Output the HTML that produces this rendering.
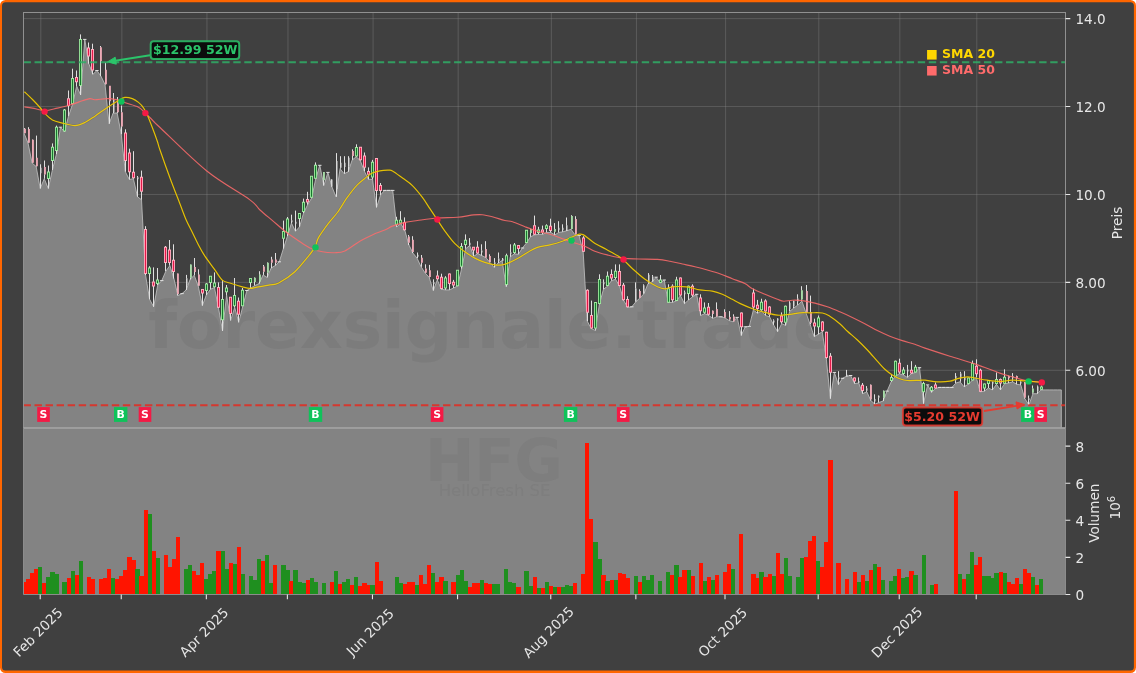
<!DOCTYPE html>
<html lang="de"><head><meta charset="utf-8"><title>HFG HelloFresh SE Chart</title>
<style>html,body{margin:0;padding:0;background:#fff;overflow:hidden}svg{display:block}</style></head>
<body>
<svg width="1136" height="673" viewBox="0 0 1136 673" font-family="'DejaVu Sans','Liberation Sans',sans-serif">
<defs>
<clipPath id="cp"><rect x="23.5" y="12.5" width="1042.0" height="415.5"/></clipPath>
<clipPath id="cv"><rect x="23.5" y="428.0" width="1042.0" height="166.5"/></clipPath>
<clipPath id="wm"><path d="M23.5 133L24 133L28.05 143L32.1 163L36.16 166.5L40.21 188.5L44.26 178.7L48.31 188.5L52.36 170L56.42 154L60.47 127.2L64.52 131.8L68.57 116L72.62 104L76.68 86.1L80.73 95L84.78 39.4L88.83 63.7L92.88 74.3L96.94 70.5L100.99 76.2L105.04 84.5L109.09 123.7L113.14 113L117.2 113L121.25 134.3L125.3 171.7L129.35 179.5L133.4 178.7L137.46 196.8L141.51 199.7L145.56 275L149.61 299.3L153.66 306.8L157.72 285L161.77 280.6L165.82 271.2L169.87 265.5L173.92 278.6L177.98 295.5L182.03 293.6L186.08 290L190.13 279.5L194.18 275.2L198.24 286.1L202.29 305.6L206.34 295L210.39 289.3L214.44 287.5L218.5 308L222.55 330.9L226.6 295L230.65 320.5L234.7 307.4L238.76 322.4L242.81 306.2L246.86 290.5L250.91 288L254.96 285.5L259.02 283.6L263.07 274.9L267.12 277.4L271.17 268L275.22 265.5L279.28 261.8L283.33 248.7L287.38 236.2L291.43 223L295.48 231.2L299.54 226.8L303.59 213L307.64 204.7L311.69 198L315.74 178.7L319.8 165.3L323.85 185.5L327.9 172.4L331.95 186.8L336 196.8L340.06 168.7L344.11 173.7L348.16 171.8L352.21 159.9L356.26 156.8L360.32 160.6L364.37 171.2L368.42 179.3L372.47 179.3L376.52 207.4L380.58 194.9L384.63 190.4L388.68 190.4L392.73 190.4L396.78 226.8L400.84 223.6L404.89 230.5L408.94 245L412.99 253.1L417.04 258.1L421.1 266.8L425.15 273L429.2 277.4L433.25 290.5L437.3 279.9L441.36 289.3L445.41 289.9L449.46 289.9L453.51 288L457.56 286.1L461.62 268.7L465.67 248.7L469.72 245.6L473.77 256.2L477.82 253.7L481.88 255.6L485.93 257.7L489.98 262.4L494.03 267.4L498.08 263L502.14 260.5L506.19 286.6L510.24 256.8L514.29 253.8L518.34 254.3L522.4 248L526.45 243L530.5 236.8L534.55 234.9L538.6 234.3L542.66 234.3L546.71 232.4L550.76 232.4L554.81 234.9L558.86 232.4L562.92 231.8L566.97 230.6L571.02 229.3L575.07 234.9L579.12 235.5L583.18 252L587.23 321.1L591.28 328.6L595.33 330.5L599.38 304.3L603.44 289.3L607.49 286.2L611.54 280.6L615.59 279.3L619.64 286.2L623.7 300.5L627.75 307.4L631.8 306.8L635.85 301.8L639.9 298L643.96 293.7L648.01 283.7L652.06 281.8L656.11 277.2L660.16 283L664.22 280L668.27 302.5L672.32 302.4L676.37 301L680.42 295.5L684.48 303.7L688.53 300L692.58 296.8L696.63 294.3L700.68 315.5L704.74 313.6L708.79 315.5L712.84 318.4L716.89 316.8L720.94 316.8L725 318L729.05 320.5L733.1 321.8L737.15 317.4L741.2 335.5L745.26 326.8L749.31 326.4L753.36 309.9L757.41 313.3L761.46 311.2L765.52 315.5L769.57 316.8L773.62 324.9L777.67 331.8L781.72 323.7L785.78 325.5L789.83 311.2L793.88 308L797.93 304.9L801.98 301.2L806.04 313L810.09 324.3L814.14 336.6L818.19 334.3L822.24 331.8L826.3 358.7L830.35 398.6L834.4 372.4L838.45 384.6L842.5 378.3L846.56 376.2L850.61 375.5L854.66 383.6L858.71 383L862.76 393.6L866.82 391.8L870.87 400.5L874.92 404.2L878.97 402.4L883.02 401.1L887.08 391.1L891.13 381.8L895.18 376.5L899.23 373.7L903.28 374.9L907.34 377.4L911.39 373.7L915.44 372.4L919.49 367.7L923.54 403.6L927.6 384.9L931.65 392.4L935.7 388.2L939.75 387.4L943.8 387.4L947.86 387.4L951.91 387.4L955.96 383L960.01 381.8L964.06 386.8L968.12 384.3L972.17 380.5L976.22 377.4L980.27 391.8L984.32 391.2L988.38 388L992.43 389.9L996.48 384.3L1000.53 389.9L1004.58 383.7L1008.64 383L1012.69 381.8L1016.74 384.3L1020.79 384.9L1024.84 398.6L1028.9 404.9L1032.95 393.7L1037 393.7L1041.05 389.9L1045.1 389.9L1049.16 389.9L1053.21 389.9L1057.26 389.9L1061.31 389.9L1061.31 428.0L1065.5 428.0L1065.5 594.5L23.5 594.5Z"/></clipPath><clipPath id="dk"><path d="M23.5 12.5L1065.5 12.5L1065.5 428.0L1061.31 428.0L1061.31 389.9L1057.26 389.9L1053.21 389.9L1049.16 389.9L1045.1 389.9L1041.05 389.9L1037 393.7L1032.95 393.7L1028.9 404.9L1024.84 398.6L1020.79 384.9L1016.74 384.3L1012.69 381.8L1008.64 383L1004.58 383.7L1000.53 389.9L996.48 384.3L992.43 389.9L988.38 388L984.32 391.2L980.27 391.8L976.22 377.4L972.17 380.5L968.12 384.3L964.06 386.8L960.01 381.8L955.96 383L951.91 387.4L947.86 387.4L943.8 387.4L939.75 387.4L935.7 388.2L931.65 392.4L927.6 384.9L923.54 403.6L919.49 367.7L915.44 372.4L911.39 373.7L907.34 377.4L903.28 374.9L899.23 373.7L895.18 376.5L891.13 381.8L887.08 391.1L883.02 401.1L878.97 402.4L874.92 404.2L870.87 400.5L866.82 391.8L862.76 393.6L858.71 383L854.66 383.6L850.61 375.5L846.56 376.2L842.5 378.3L838.45 384.6L834.4 372.4L830.35 398.6L826.3 358.7L822.24 331.8L818.19 334.3L814.14 336.6L810.09 324.3L806.04 313L801.98 301.2L797.93 304.9L793.88 308L789.83 311.2L785.78 325.5L781.72 323.7L777.67 331.8L773.62 324.9L769.57 316.8L765.52 315.5L761.46 311.2L757.41 313.3L753.36 309.9L749.31 326.4L745.26 326.8L741.2 335.5L737.15 317.4L733.1 321.8L729.05 320.5L725 318L720.94 316.8L716.89 316.8L712.84 318.4L708.79 315.5L704.74 313.6L700.68 315.5L696.63 294.3L692.58 296.8L688.53 300L684.48 303.7L680.42 295.5L676.37 301L672.32 302.4L668.27 302.5L664.22 280L660.16 283L656.11 277.2L652.06 281.8L648.01 283.7L643.96 293.7L639.9 298L635.85 301.8L631.8 306.8L627.75 307.4L623.7 300.5L619.64 286.2L615.59 279.3L611.54 280.6L607.49 286.2L603.44 289.3L599.38 304.3L595.33 330.5L591.28 328.6L587.23 321.1L583.18 252L579.12 235.5L575.07 234.9L571.02 229.3L566.97 230.6L562.92 231.8L558.86 232.4L554.81 234.9L550.76 232.4L546.71 232.4L542.66 234.3L538.6 234.3L534.55 234.9L530.5 236.8L526.45 243L522.4 248L518.34 254.3L514.29 253.8L510.24 256.8L506.19 286.6L502.14 260.5L498.08 263L494.03 267.4L489.98 262.4L485.93 257.7L481.88 255.6L477.82 253.7L473.77 256.2L469.72 245.6L465.67 248.7L461.62 268.7L457.56 286.1L453.51 288L449.46 289.9L445.41 289.9L441.36 289.3L437.3 279.9L433.25 290.5L429.2 277.4L425.15 273L421.1 266.8L417.04 258.1L412.99 253.1L408.94 245L404.89 230.5L400.84 223.6L396.78 226.8L392.73 190.4L388.68 190.4L384.63 190.4L380.58 194.9L376.52 207.4L372.47 179.3L368.42 179.3L364.37 171.2L360.32 160.6L356.26 156.8L352.21 159.9L348.16 171.8L344.11 173.7L340.06 168.7L336 196.8L331.95 186.8L327.9 172.4L323.85 185.5L319.8 165.3L315.74 178.7L311.69 198L307.64 204.7L303.59 213L299.54 226.8L295.48 231.2L291.43 223L287.38 236.2L283.33 248.7L279.28 261.8L275.22 265.5L271.17 268L267.12 277.4L263.07 274.9L259.02 283.6L254.96 285.5L250.91 288L246.86 290.5L242.81 306.2L238.76 322.4L234.7 307.4L230.65 320.5L226.6 295L222.55 330.9L218.5 308L214.44 287.5L210.39 289.3L206.34 295L202.29 305.6L198.24 286.1L194.18 275.2L190.13 279.5L186.08 290L182.03 293.6L177.98 295.5L173.92 278.6L169.87 265.5L165.82 271.2L161.77 280.6L157.72 285L153.66 306.8L149.61 299.3L145.56 275L141.51 199.7L137.46 196.8L133.4 178.7L129.35 179.5L125.3 171.7L121.25 134.3L117.2 113L113.14 113L109.09 123.7L105.04 84.5L100.99 76.2L96.94 70.5L92.88 74.3L88.83 63.7L84.78 39.4L80.73 95L76.68 86.1L72.62 104L68.57 116L64.52 131.8L60.47 127.2L56.42 154L52.36 170L48.31 188.5L44.26 178.7L40.21 188.5L36.16 166.5L32.1 163L28.05 143L24 133L23.5 133Z"/></clipPath>
</defs>
<rect x="0" y="0" width="1136" height="673" fill="#ffffff"/>
<rect x="0" y="0" width="1136" height="673" rx="5.5" ry="5.5" fill="#ff6600"/>
<rect x="2" y="2.2" width="1131.9" height="668.3" rx="3.5" ry="3.5" fill="#404040"/>
<rect x="23.5" y="428.0" width="1042.0" height="166.5" fill="#838383"/>
<g clip-path="url(#cp)">
<path d="M23.5 133L24 133L28.05 143L32.1 163L36.16 166.5L40.21 188.5L44.26 178.7L48.31 188.5L52.36 170L56.42 154L60.47 127.2L64.52 131.8L68.57 116L72.62 104L76.68 86.1L80.73 95L84.78 39.4L88.83 63.7L92.88 74.3L96.94 70.5L100.99 76.2L105.04 84.5L109.09 123.7L113.14 113L117.2 113L121.25 134.3L125.3 171.7L129.35 179.5L133.4 178.7L137.46 196.8L141.51 199.7L145.56 275L149.61 299.3L153.66 306.8L157.72 285L161.77 280.6L165.82 271.2L169.87 265.5L173.92 278.6L177.98 295.5L182.03 293.6L186.08 290L190.13 279.5L194.18 275.2L198.24 286.1L202.29 305.6L206.34 295L210.39 289.3L214.44 287.5L218.5 308L222.55 330.9L226.6 295L230.65 320.5L234.7 307.4L238.76 322.4L242.81 306.2L246.86 290.5L250.91 288L254.96 285.5L259.02 283.6L263.07 274.9L267.12 277.4L271.17 268L275.22 265.5L279.28 261.8L283.33 248.7L287.38 236.2L291.43 223L295.48 231.2L299.54 226.8L303.59 213L307.64 204.7L311.69 198L315.74 178.7L319.8 165.3L323.85 185.5L327.9 172.4L331.95 186.8L336 196.8L340.06 168.7L344.11 173.7L348.16 171.8L352.21 159.9L356.26 156.8L360.32 160.6L364.37 171.2L368.42 179.3L372.47 179.3L376.52 207.4L380.58 194.9L384.63 190.4L388.68 190.4L392.73 190.4L396.78 226.8L400.84 223.6L404.89 230.5L408.94 245L412.99 253.1L417.04 258.1L421.1 266.8L425.15 273L429.2 277.4L433.25 290.5L437.3 279.9L441.36 289.3L445.41 289.9L449.46 289.9L453.51 288L457.56 286.1L461.62 268.7L465.67 248.7L469.72 245.6L473.77 256.2L477.82 253.7L481.88 255.6L485.93 257.7L489.98 262.4L494.03 267.4L498.08 263L502.14 260.5L506.19 286.6L510.24 256.8L514.29 253.8L518.34 254.3L522.4 248L526.45 243L530.5 236.8L534.55 234.9L538.6 234.3L542.66 234.3L546.71 232.4L550.76 232.4L554.81 234.9L558.86 232.4L562.92 231.8L566.97 230.6L571.02 229.3L575.07 234.9L579.12 235.5L583.18 252L587.23 321.1L591.28 328.6L595.33 330.5L599.38 304.3L603.44 289.3L607.49 286.2L611.54 280.6L615.59 279.3L619.64 286.2L623.7 300.5L627.75 307.4L631.8 306.8L635.85 301.8L639.9 298L643.96 293.7L648.01 283.7L652.06 281.8L656.11 277.2L660.16 283L664.22 280L668.27 302.5L672.32 302.4L676.37 301L680.42 295.5L684.48 303.7L688.53 300L692.58 296.8L696.63 294.3L700.68 315.5L704.74 313.6L708.79 315.5L712.84 318.4L716.89 316.8L720.94 316.8L725 318L729.05 320.5L733.1 321.8L737.15 317.4L741.2 335.5L745.26 326.8L749.31 326.4L753.36 309.9L757.41 313.3L761.46 311.2L765.52 315.5L769.57 316.8L773.62 324.9L777.67 331.8L781.72 323.7L785.78 325.5L789.83 311.2L793.88 308L797.93 304.9L801.98 301.2L806.04 313L810.09 324.3L814.14 336.6L818.19 334.3L822.24 331.8L826.3 358.7L830.35 398.6L834.4 372.4L838.45 384.6L842.5 378.3L846.56 376.2L850.61 375.5L854.66 383.6L858.71 383L862.76 393.6L866.82 391.8L870.87 400.5L874.92 404.2L878.97 402.4L883.02 401.1L887.08 391.1L891.13 381.8L895.18 376.5L899.23 373.7L903.28 374.9L907.34 377.4L911.39 373.7L915.44 372.4L919.49 367.7L923.54 403.6L927.6 384.9L931.65 392.4L935.7 388.2L939.75 387.4L943.8 387.4L947.86 387.4L951.91 387.4L955.96 383L960.01 381.8L964.06 386.8L968.12 384.3L972.17 380.5L976.22 377.4L980.27 391.8L984.32 391.2L988.38 388L992.43 389.9L996.48 384.3L1000.53 389.9L1004.58 383.7L1008.64 383L1012.69 381.8L1016.74 384.3L1020.79 384.9L1024.84 398.6L1028.9 404.9L1032.95 393.7L1037 393.7L1041.05 389.9L1045.1 389.9L1049.16 389.9L1053.21 389.9L1057.26 389.9L1061.31 389.9L1061.31 428.0L23.5 428.0Z" fill="#838383" stroke="none"/>
</g>
<path d="M23.5 370.3H1065.5M23.5 282.38H1065.5M23.5 194.46H1065.5M23.5 106.54H1065.5M23.5 18.62H1065.5M40.81 12.5V428.0M121.85 12.5V428.0M206.94 12.5V428.0M287.98 12.5V428.0M373.07 12.5V428.0M458.16 12.5V428.0M551.36 12.5V428.0M636.45 12.5V428.0M725.6 12.5V428.0M818.79 12.5V428.0M899.83 12.5V428.0M976.82 12.5V428.0" stroke="#8a8a8a" stroke-opacity="0.36" stroke-width="1" fill="none" clip-path="url(#dk)"/>
<g clip-path="url(#cp)">
<path d="M24 133L28.05 143L32.1 163L36.16 166.5L40.21 188.5L44.26 178.7L48.31 188.5L52.36 170L56.42 154L60.47 127.2L64.52 131.8L68.57 116L72.62 104L76.68 86.1L80.73 95L84.78 39.4L88.83 63.7L92.88 74.3L96.94 70.5L100.99 76.2L105.04 84.5L109.09 123.7L113.14 113L117.2 113L121.25 134.3L125.3 171.7L129.35 179.5L133.4 178.7L137.46 196.8L141.51 199.7L145.56 275L149.61 299.3L153.66 306.8L157.72 285L161.77 280.6L165.82 271.2L169.87 265.5L173.92 278.6L177.98 295.5L182.03 293.6L186.08 290L190.13 279.5L194.18 275.2L198.24 286.1L202.29 305.6L206.34 295L210.39 289.3L214.44 287.5L218.5 308L222.55 330.9L226.6 295L230.65 320.5L234.7 307.4L238.76 322.4L242.81 306.2L246.86 290.5L250.91 288L254.96 285.5L259.02 283.6L263.07 274.9L267.12 277.4L271.17 268L275.22 265.5L279.28 261.8L283.33 248.7L287.38 236.2L291.43 223L295.48 231.2L299.54 226.8L303.59 213L307.64 204.7L311.69 198L315.74 178.7L319.8 165.3L323.85 185.5L327.9 172.4L331.95 186.8L336 196.8L340.06 168.7L344.11 173.7L348.16 171.8L352.21 159.9L356.26 156.8L360.32 160.6L364.37 171.2L368.42 179.3L372.47 179.3L376.52 207.4L380.58 194.9L384.63 190.4L388.68 190.4L392.73 190.4L396.78 226.8L400.84 223.6L404.89 230.5L408.94 245L412.99 253.1L417.04 258.1L421.1 266.8L425.15 273L429.2 277.4L433.25 290.5L437.3 279.9L441.36 289.3L445.41 289.9L449.46 289.9L453.51 288L457.56 286.1L461.62 268.7L465.67 248.7L469.72 245.6L473.77 256.2L477.82 253.7L481.88 255.6L485.93 257.7L489.98 262.4L494.03 267.4L498.08 263L502.14 260.5L506.19 286.6L510.24 256.8L514.29 253.8L518.34 254.3L522.4 248L526.45 243L530.5 236.8L534.55 234.9L538.6 234.3L542.66 234.3L546.71 232.4L550.76 232.4L554.81 234.9L558.86 232.4L562.92 231.8L566.97 230.6L571.02 229.3L575.07 234.9L579.12 235.5L583.18 252L587.23 321.1L591.28 328.6L595.33 330.5L599.38 304.3L603.44 289.3L607.49 286.2L611.54 280.6L615.59 279.3L619.64 286.2L623.7 300.5L627.75 307.4L631.8 306.8L635.85 301.8L639.9 298L643.96 293.7L648.01 283.7L652.06 281.8L656.11 277.2L660.16 283L664.22 280L668.27 302.5L672.32 302.4L676.37 301L680.42 295.5L684.48 303.7L688.53 300L692.58 296.8L696.63 294.3L700.68 315.5L704.74 313.6L708.79 315.5L712.84 318.4L716.89 316.8L720.94 316.8L725 318L729.05 320.5L733.1 321.8L737.15 317.4L741.2 335.5L745.26 326.8L749.31 326.4L753.36 309.9L757.41 313.3L761.46 311.2L765.52 315.5L769.57 316.8L773.62 324.9L777.67 331.8L781.72 323.7L785.78 325.5L789.83 311.2L793.88 308L797.93 304.9L801.98 301.2L806.04 313L810.09 324.3L814.14 336.6L818.19 334.3L822.24 331.8L826.3 358.7L830.35 398.6L834.4 372.4L838.45 384.6L842.5 378.3L846.56 376.2L850.61 375.5L854.66 383.6L858.71 383L862.76 393.6L866.82 391.8L870.87 400.5L874.92 404.2L878.97 402.4L883.02 401.1L887.08 391.1L891.13 381.8L895.18 376.5L899.23 373.7L903.28 374.9L907.34 377.4L911.39 373.7L915.44 372.4L919.49 367.7L923.54 403.6L927.6 384.9L931.65 392.4L935.7 388.2L939.75 387.4L943.8 387.4L947.86 387.4L951.91 387.4L955.96 383L960.01 381.8L964.06 386.8L968.12 384.3L972.17 380.5L976.22 377.4L980.27 391.8L984.32 391.2L988.38 388L992.43 389.9L996.48 384.3L1000.53 389.9L1004.58 383.7L1008.64 383L1012.69 381.8L1016.74 384.3L1020.79 384.9L1024.84 398.6L1028.9 404.9L1032.95 393.7L1037 393.7L1041.05 389.9L1045.1 389.9L1049.16 389.9L1053.21 389.9L1057.26 389.9L1061.31 389.9L1061.31 428.0" fill="none" stroke="#c4c4c4" stroke-opacity="0.8" stroke-width="1" stroke-linejoin="round"/>
</g>
<g clip-path="url(#cp)">
<path d="M24.5 128V129M24.5 133V133M28.5 127.2V129.3M28.5 142.4V143M32.5 139.5V140M32.5 162.4V163M36.5 135.6V158M36.5 166V166.5M40.5 164.3V168M40.5 173V188.5M44.5 160.5V167.4M44.5 174.3V178.7M48.5 165.5V172M48.5 178.5V188.5M52.5 143.4V147.2M52.5 160.5V170M56.5 125.6V127.2M56.5 150.5V154M58.77 127.2H62.17M64.5 109V110M64.5 131.2V131.8M68.5 90.5V98.6M68.5 105.5V116M72.5 68.7V78.4M72.5 103.6V104M76.5 70.5V77.4M76.5 81.8V86.1M80.5 34.4V39.4M80.5 85.5V95M83.08 39.4H86.48M88.5 42.5V48M88.5 56.2V63.7M92.5 43.7V49.3M92.5 70.2V74.3M95.24 70.5H98.64M100.5 46V47.5M100.5 61V76.2M105.5 62.5V70M105.5 84V84.5M109.5 86V86.1M109.5 101V123.7M113.5 93V100M113.5 112V113M117.5 97V100M117.5 112V113M121.5 105.6V112.5M121.5 126.2V134.3M125.5 129.3V133M125.5 160.5V171.7M129.5 148.7V153M129.5 171.8V179.5M133.5 151.2V172.1M133.5 177.9V178.7M137.5 176V177.5M137.5 178.5V196.8M141.5 170.6V177.2M141.5 191.4V199.7M145.5 226.2V229.4M145.5 273.7V275M149.5 266.2V268M149.5 273.7V299.3M153.5 267.4V281.8M153.5 286V306.8M157.5 268V280M157.5 283.7V285M160.07 280.6H163.47M165.5 246V247.2M165.5 262.7V271.2M169.5 240V250M169.5 262.7V265.5M173.5 244.3V260.2M173.5 271.5V278.6M177.5 273.5V273.9M177.5 293.6V295.5M180.33 293.6H183.73M186.5 274.9V278.6M186.5 284.9V290M190.5 264.5V264.9M190.5 277.4V279.5M194.5 258V267.2M194.5 271.8V275.2M198.5 269.3V274.9M198.5 285.5V286.1M202.5 289V289.3M202.5 293V305.6M206.5 283V284M206.5 290.6V295M210.5 276V276.2M210.5 282.5V289.3M214.5 272.4V283M214.5 286.8V287.5M218.5 282.4V287.5M218.5 307.4V308M222.5 280V299.3M222.5 319.9V330.9M226.5 285V288M226.5 291.8V295M230.5 297V297.2M230.5 313.7V320.5M234.5 278V295.3M234.5 305.9V307.4M238.5 297.5V301.2M238.5 314.3V322.4M242.5 288V290.2M242.5 305.9V306.2M245.16 290.5H248.56M250.5 278V278.4M250.5 282.5V288M254.5 277.4V278M254.5 281.8V285.5M259.5 271.2V274.9M259.5 281.1V283.6M263.5 265V266.8M263.5 271.5V274.9M267.5 262.4V263M267.5 272.4V277.4M271.5 256.8V259.9M271.5 262.4V268M275.5 253V259.9M275.5 262.4V265.5M277.58 261.8H280.98M283.5 220.6V231.4M283.5 238.4V248.7M287.5 217V219M287.5 232.4V236.2M291.5 214.7V220.5M291.5 221.5V223M295.5 210.6V222M295.5 223V231.2M299.5 213V213.5M299.5 218.7V226.8M303.5 198.6V202.1M303.5 211.6V213M307.5 191.8V199.3M307.5 202.1V204.7M311.5 176V176.2M311.5 197.4V198M315.5 162.4V165.2M315.5 178.4V178.7M318.1 165.3H321.5M323.5 172V172.4M323.5 179.9V185.5M326.2 172.4H329.6M331.5 179.3V179.9M331.5 186.2V186.8M336.5 153.1V161.2M336.5 188.6V196.8M340.5 156.2V163M340.5 167.4V168.7M344.5 156.2V163M344.5 166.8V173.7M348.5 156.2V158M348.5 166.2V171.8M352.5 149.3V151.2M352.5 155.6V159.9M356.5 144.3V147.5M356.5 156.2V156.8M360.5 147V147.2M360.5 159.9V160.6M364.5 152.5V156M364.5 167.4V171.2M368.5 167.4V171.4M368.5 174.3V179.3M372.5 159.9V162.2M372.5 177.2V179.3M376.5 158V158.5M376.5 190.5V207.4M380.5 183V185.5M380.5 190.5V194.9M382.93 190.4H386.33M386.98 190.4H390.38M391.03 190.4H394.43M396.5 216.8V220.1M396.5 224.3V226.8M400.5 211.2V220.1M400.5 223V223.6M404.5 217.4V222.4M404.5 229.9V230.5M408.5 235V236.8M408.5 242.5V245M412.5 236.2V240M412.5 251.8V253.1M417.5 252.5V255M417.5 256V258.1M421.5 255V258.1M421.5 262.4V266.8M425.5 264.3V268.7M425.5 272.4V273M429.5 264.9V270.5M429.5 276.8V277.4M433.5 279.3V282.5M433.5 283.5V290.5M437.5 270.5V275.9M437.5 278.9V279.9M441.5 273.7V277.2M441.5 288.6V289.3M445.5 276.2V278M445.5 288V289.9M449.5 273.5V274M449.5 283.6V289.9M453.5 279.9V282.1M453.5 285.1V288M457.5 270V270.2M457.5 285.9V286.1M461.5 243.1V246.5M461.5 266.4V268.7M465.5 234.4V240.2M465.5 244.7V248.7M469.5 238.1V243.1M469.5 245V245.6M473.5 247V247.2M473.5 250V256.2M477.5 241.2V247.2M477.5 253.1V253.7M481.5 244.3V250.7M481.5 251.7V255.6M485.5 241.2V249.3M485.5 257.4V257.7M489.5 254.3V256.2M489.5 261.8V262.4M494.5 258.1V262.5M494.5 263.5V267.4M498.5 252.5V258.7M498.5 260.6V263M502.5 258V259M502.5 260V260.5M506.5 253.7V255.6M506.5 284.5V286.6M510.5 244.3V252.6M510.5 253.5V256.8M514.5 243V245M514.5 252.7V253.8M518.5 245V245.5M518.5 248.7V254.3M520.7 248H524.1M526.5 230V230.2M526.5 242.7V243M530.5 228.7V229.3M530.5 232.7V236.8M534.5 215.6V225.6M534.5 234.3V234.9M538.5 226.8V229.9M538.5 232.7V234.3M542.5 225.6V229.9M542.5 232.2V234.3M546.5 224.3V225.6M546.5 228.7V232.4M550.5 218.7V226.2M550.5 230.6V232.4M554.5 223.1V229.3M554.5 231.4V234.9M558.5 221.2V228M558.5 230V232.4M562.5 224.3V228M562.5 230V231.8M566.5 217.5V225.6M566.5 230.6V230.6M571.5 215.2V216.2M571.5 228.7V229.3M575.5 216.2V219.3M575.5 234.3V234.9M577.42 235.5H580.82M583.5 236.2V238M583.5 251.4V252M587.5 289.3V290.2M587.5 312.4V321.1M591.5 300.6V315.5M591.5 328V328.6M595.5 302V302.4M595.5 328V330.5M599.5 274.3V279.3M599.5 303.7V304.3M603.5 279.3V282.6M603.5 283.6V289.3M607.5 271.5V276.2M607.5 285.6V286.2M611.5 269.4V274.3M611.5 278.1V280.6M615.5 264.4V271.2M615.5 277.5V279.3M619.5 264.4V271.5M619.5 285.6V286.2M623.5 283V285.2M623.5 299.9V300.5M627.5 296.2V299.3M627.5 306.8V307.4M630.1 306.8H633.5M635.5 282.4V288.7M635.5 301.2V301.8M639.5 289.3V291.2M639.5 297.4V298M643.5 284.3V285.6M643.5 293V293.7M648.5 273.1V275M648.5 283V283.7M652.5 275V276.8M652.5 281.2V281.8M654.41 277.2H657.81M660.5 275V280M660.5 282.7V283M662.52 280H665.92M668.5 284.3V288.7M668.5 302.4V302.5M672.5 284.3V286.2M672.5 299.9V302.4M676.5 276.8V280M676.5 300.5V301M680.5 277.5V278M680.5 295V295.5M684.5 290.5V292.5M684.5 293.5V303.7M688.5 285.6V286.2M688.5 293.7V300M692.5 284.3V286.2M692.5 295V296.8M694.93 294.3H698.33M700.5 294.3V298M700.5 310.9V315.5M704.5 302.4V308M704.5 312.4V313.6M708.5 303V307.2M708.5 314.3V315.5M712.5 310.5V311.1M712.5 313.6V318.4M716.5 302.4V309.3M716.5 316.1V316.8M719.24 316.8H722.64M724.5 309.3V312.4M724.5 317.4V318M729.5 311.1V317.4M729.5 319.3V320.5M733.5 314.3V316.8M733.5 321.1V321.8M735.45 317.4H738.85M741.5 312.5V313M741.5 326.8V335.5M743.56 326.8H746.96M747.61 326.4H751.01M753.5 288.7V293M753.5 307V309.9M757.5 299.9V305.2M757.5 308.7V313.3M761.5 298.7V302.2M761.5 309.9V311.2M765.5 299.3V300.9M765.5 311.2V315.5M769.5 306V306.8M769.5 314.3V316.8M773.5 319.3V320.7M773.5 321.7V324.9M777.5 318V318.7M777.5 320V331.8M781.5 312.4V315.9M781.5 321.8V323.7M785.5 305.6V306.2M785.5 322.4V325.5M789.5 301.2V303M789.5 309V311.2M793.5 300.6V301.2M793.5 306.2V308M797.5 294.3V298.7M797.5 301.2V304.9M801.5 286.2V290.6M801.5 299.3V301.2M806.5 285V291.2M806.5 312.4V313M810.5 295.6V312.4M810.5 322.4V324.3M814.5 318.7V323M814.5 326.2V336.6M818.5 315.5V318M818.5 326.8V334.3M822.5 321V321.8M822.5 330.8V331.8M826.5 331.8V332.2M826.5 357.7V358.7M830.5 353.1V356.2M830.5 372.4V398.6M832.7 372.4H836.1M838.5 371.2V377.5M838.5 378.5V384.6M840.8 378.3H844.2M846.5 369.9V375M846.5 376V376.2M848.91 375.5H852.31M854.5 377.5V378M854.5 381.2V383.6M858.5 377.4V381.3M858.5 382.3V383M862.5 383V385.1M862.5 390.5V393.6M866.5 386.1V388.6M866.5 390.5V391.8M870.5 384.5V385.1M870.5 399.2V400.5M874.5 394.3V399.2M874.5 401.1V404.2M878.5 395.5V396.1M878.5 397.4V402.4M883.5 390.5V391.1M883.5 397.4V401.1M885.38 391.1H888.78M891.5 374.3V377.4M891.5 380.5V381.8M895.5 360.6V361.2M895.5 376.2V376.5M899.5 358.7V363.1M899.5 372.2V373.7M903.5 367.2V370M903.5 373.7V374.9M907.5 364.9V369.9M907.5 370.9V377.4M911.5 361.2V370.2M911.5 373V373.7M915.5 364.9V367.2M915.5 372.2V372.4M917.79 367.7H921.19M923.5 381.8V383.5M923.5 391.8V403.6M925.9 384.9H929.3M931.5 386V387.2M931.5 390.5V392.4M935.5 382.4V384.9M935.5 388V388.2M938.05 387.4H941.45M942.1 387.4H945.5M946.16 387.4H949.56M950.21 387.4H953.61M955.5 373.1V376.2M955.5 379.9V383M960.5 371.8V373.7M960.5 378V381.8M964.5 371.2V377.4M964.5 379.9V386.8M968.5 377.4V378M968.5 383.7V384.3M972.5 360.6V363.4M972.5 380.2V380.5M976.5 359.3V366.2M976.5 373.9V377.4M980.5 368.7V370.2M980.5 391.4V391.8M984.5 383.5V383.9M984.5 388V391.2M988.5 380V380.5M988.5 383.7V388M992.5 381.5V382M992.5 383V389.9M996.5 372.4V379.3M996.5 383.7V384.3M1000.5 378.5V379.3M1000.5 383V389.9M1004.5 369.3V377.2M1004.5 383.4V383.7M1008.5 375.5V376.2M1008.5 378V383M1012.5 373.1V376.2M1012.5 378V381.8M1016.5 375.6V376.2M1016.5 377.4V384.3M1020.5 380.5V381.8M1020.5 383V384.9M1024.5 382V382.4M1024.5 397.4V398.6M1028.5 395.5V398.6M1028.5 399.9V404.9M1032.5 385.5V388.7M1032.5 392.4V393.7M1037.5 385.5V386.8M1037.5 391.2V393.7M1041.5 385.5V386.8M1041.5 389.3V389.9" stroke="#e0e0e0" stroke-width="1" fill="none"/>
<path d="M47 171.6H50V178.9H47ZM51 146.8H54V160.9H51ZM55 126.8H58V150.9H55ZM63 109.6H66V131.6H63ZM71 78H74V104H71ZM79 39H82V85.9H79ZM148 267.6H151V274.1H148ZM156 279.6H159V284.1H156ZM205 283.6H208V291H205ZM209 275.8H212V282.9H209ZM213 282.6H216V287.2H213ZM221 298.9H224V320.3H221ZM225 287.6H228V292.2H225ZM233 294.9H236V306.3H233ZM241 289.8H244V306.3H241ZM249 278H252V282.9H249ZM282 231H285V238.8H282ZM286 218.6H289V232.8H286ZM298 213.1H301V219.1H298ZM302 201.7H305V212H302ZM310 175.8H313V197.8H310ZM314 164.8H317V178.8H314ZM355 147.1H358V156.6H355ZM371 161.8H374V177.6H371ZM395 219.7H398V224.7H395ZM399 219.7H402V223.4H399ZM444 277.6H447V288.4H444ZM456 269.8H459V286.3H456ZM460 246.1H463V266.8H460ZM464 239.8H467V245.1H464ZM505 255.2H508V284.9H505ZM513 244.6H516V253.1H513ZM525 229.8H528V243.1H525ZM537 229.5H540V233.1H537ZM545 225.2H548V229.1H545ZM594 302H597V328.4H594ZM598 278.9H601V304.1H598ZM606 275.8H609V286H606ZM614 270.8H617V277.9H614ZM659 279.6H662V283.1H659ZM667 288.3H670V302.8H667ZM675 279.6H678V300.9H675ZM687 285.8H690V294.1H687ZM703 307.6H706V312.8H703ZM760 301.8H763V310.3H760ZM784 305.8H787V322.8H784ZM817 317.6H820V327.2H817ZM890 377H893V380.9H890ZM894 360.8H897V376.6H894ZM902 369.6H905V374.1H902ZM914 366.8H917V372.6H914ZM922 383.1H925V392.2H922ZM930 386.8H933V390.9H930ZM967 377.6H970V384.1H967ZM971 363H974V380.6H971ZM983 383.5H986V388.4H983ZM987 380.1H990V384.1H987ZM995 378.9H998V384.1H995ZM1003 376.8H1006V383.8H1003ZM1040 386.4H1043V389.7H1040Z" fill="#a0e8a0"/>
<path d="M47.9 172.6H49.1V177.9H47.9ZM51.9 147.8H53.1V159.9H51.9ZM55.9 127.8H57.1V149.9H55.9ZM63.9 110.6H65.1V130.6H63.9ZM71.9 79H73.1V103H71.9ZM79.9 40H81.1V84.9H79.9ZM148.9 268.6H150.1V273.1H148.9ZM156.9 280.6H158.1V283.1H156.9ZM205.9 284.6H207.1V290H205.9ZM209.9 276.8H211.1V281.9H209.9ZM213.9 283.6H215.1V286.2H213.9ZM221.9 299.9H223.1V319.3H221.9ZM225.9 288.6H227.1V291.2H225.9ZM233.9 295.9H235.1V305.3H233.9ZM241.9 290.8H243.1V305.3H241.9ZM249.9 279H251.1V281.9H249.9ZM282.9 232H284.1V237.8H282.9ZM286.9 219.6H288.1V231.8H286.9ZM298.9 214.1H300.1V218.1H298.9ZM302.9 202.7H304.1V211H302.9ZM310.9 176.8H312.1V196.8H310.9ZM314.9 165.8H316.1V177.8H314.9ZM355.9 148.1H357.1V155.6H355.9ZM371.9 162.8H373.1V176.6H371.9ZM395.9 220.7H397.1V223.7H395.9ZM399.9 220.7H401.1V222.4H399.9ZM444.9 278.6H446.1V287.4H444.9ZM456.9 270.8H458.1V285.3H456.9ZM460.9 247.1H462.1V265.8H460.9ZM464.9 240.8H466.1V244.1H464.9ZM505.9 256.2H507.1V283.9H505.9ZM513.9 245.6H515.1V252.1H513.9ZM525.9 230.8H527.1V242.1H525.9ZM537.9 230.5H539.1V232.1H537.9ZM545.9 226.2H547.1V228.1H545.9ZM594.9 303H596.1V327.4H594.9ZM598.9 279.9H600.1V303.1H598.9ZM606.9 276.8H608.1V285H606.9ZM614.9 271.8H616.1V276.9H614.9ZM659.9 280.6H661.1V282.1H659.9ZM667.9 289.3H669.1V301.8H667.9ZM675.9 280.6H677.1V299.9H675.9ZM687.9 286.8H689.1V293.1H687.9ZM703.9 308.6H705.1V311.8H703.9ZM760.9 302.8H762.1V309.3H760.9ZM784.9 306.8H786.1V321.8H784.9ZM817.9 318.6H819.1V326.2H817.9ZM890.9 378H892.1V379.9H890.9ZM894.9 361.8H896.1V375.6H894.9ZM902.9 370.6H904.1V373.1H902.9ZM914.9 367.8H916.1V371.6H914.9ZM922.9 384.1H924.1V391.2H922.9ZM930.9 387.8H932.1V389.9H930.9ZM967.9 378.6H969.1V383.1H967.9ZM971.9 364H973.1V379.6H971.9ZM983.9 384.5H985.1V387.4H983.9ZM987.9 381.1H989.1V383.1H987.9ZM995.9 379.9H997.1V383.1H995.9ZM1003.9 377.8H1005.1V382.8H1003.9ZM1040.9 387.4H1042.1V388.7H1040.9Z" fill="#167a2e"/>
<path d="M67 98.2H70V105.9H67ZM75 77H78V82.2H75ZM87 47.6H90V56.6H87ZM91 48.9H94V70.6H91ZM124 132.6H127V160.9H124ZM128 152.6H131V172.2H128ZM132 171.7H135V178.3H132ZM140 176.8H143V191.8H140ZM144 229H147V274.1H144ZM152 281.4H155V286.4H152ZM164 246.8H167V263.1H164ZM168 249.6H171V263.1H168ZM172 259.8H175V271.9H172ZM201 288.9H204V293.4H201ZM217 287.1H220V307.8H217ZM229 296.8H232V314.1H229ZM237 300.8H240V314.7H237ZM306 198.9H309V202.5H306ZM359 146.8H362V160.3H359ZM363 155.6H366V167.8H363ZM367 171H370V174.7H367ZM375 158.1H378V190.9H375ZM379 185.1H382V190.9H379ZM403 222H406V230.3H403ZM436 275.5H439V279.3H436ZM440 276.8H443V289H440ZM448 273.6H451V284H448ZM452 281.7H455V285.5H452ZM472 246.8H475V250.4H472ZM476 246.8H479V253.5H476ZM517 245.1H520V249.1H517ZM533 225.2H536V234.7H533ZM541 229.5H544V232.6H541ZM549 225.8H552V231H549ZM582 237.6H585V251.8H582ZM586 289.8H589V312.8H586ZM590 315.1H593V328.4H590ZM610 273.9H613V278.5H610ZM618 271.1H621V286H618ZM622 284.8H625V300.3H622ZM626 298.9H629V307.2H626ZM671 285.8H674V300.3H671ZM679 277.6H682V295.4H679ZM691 285.8H694V295.4H691ZM699 297.6H702V311.3H699ZM707 306.8H710V314.7H707ZM740 312.6H743V327.2H740ZM752 292.6H755V307.4H752ZM756 304.8H759V309.1H756ZM764 300.5H767V311.6H764ZM768 306.4H771V314.7H768ZM780 315.5H783V322.2H780ZM813 322.6H816V326.6H813ZM821 321.4H824V331.2H821ZM825 331.8H828V358.1H825ZM829 355.8H832V372.8H829ZM853 377.6H856V381.6H853ZM861 384.7H864V390.9H861ZM898 362.7H901V372.6H898ZM910 369.8H913V373.4H910ZM934 384.5H937V388.4H934ZM975 365.8H978V374.3H975ZM979 369.8H982V391.8H979ZM999 378.9H1002V383.4H999Z" fill="#ffb0c0"/>
<path d="M67.9 99.2H69.1V104.9H67.9ZM75.9 78H77.1V81.2H75.9ZM87.9 48.6H89.1V55.6H87.9ZM91.9 49.9H93.1V69.6H91.9ZM124.9 133.6H126.1V159.9H124.9ZM128.9 153.6H130.1V171.2H128.9ZM132.9 172.7H134.1V177.3H132.9ZM140.9 177.8H142.1V190.8H140.9ZM144.9 230H146.1V273.1H144.9ZM152.9 282.4H154.1V285.4H152.9ZM164.9 247.8H166.1V262.1H164.9ZM168.9 250.6H170.1V262.1H168.9ZM172.9 260.8H174.1V270.9H172.9ZM201.9 289.9H203.1V292.4H201.9ZM217.9 288.1H219.1V306.8H217.9ZM229.9 297.8H231.1V313.1H229.9ZM237.9 301.8H239.1V313.7H237.9ZM306.9 199.9H308.1V201.5H306.9ZM359.9 147.8H361.1V159.3H359.9ZM363.9 156.6H365.1V166.8H363.9ZM367.9 172H369.1V173.7H367.9ZM375.9 159.1H377.1V189.9H375.9ZM379.9 186.1H381.1V189.9H379.9ZM403.9 223H405.1V229.3H403.9ZM436.9 276.5H438.1V278.3H436.9ZM440.9 277.8H442.1V288H440.9ZM448.9 274.6H450.1V283H448.9ZM452.9 282.7H454.1V284.5H452.9ZM472.9 247.8H474.1V249.4H472.9ZM476.9 247.8H478.1V252.5H476.9ZM517.9 246.1H519.1V248.1H517.9ZM533.9 226.2H535.1V233.7H533.9ZM541.9 230.5H543.1V231.6H541.9ZM549.9 226.8H551.1V230H549.9ZM582.9 238.6H584.1V250.8H582.9ZM586.9 290.8H588.1V311.8H586.9ZM590.9 316.1H592.1V327.4H590.9ZM610.9 274.9H612.1V277.5H610.9ZM618.9 272.1H620.1V285H618.9ZM622.9 285.8H624.1V299.3H622.9ZM626.9 299.9H628.1V306.2H626.9ZM671.9 286.8H673.1V299.3H671.9ZM679.9 278.6H681.1V294.4H679.9ZM691.9 286.8H693.1V294.4H691.9ZM699.9 298.6H701.1V310.3H699.9ZM707.9 307.8H709.1V313.7H707.9ZM740.9 313.6H742.1V326.2H740.9ZM752.9 293.6H754.1V306.4H752.9ZM756.9 305.8H758.1V308.1H756.9ZM764.9 301.5H766.1V310.6H764.9ZM768.9 307.4H770.1V313.7H768.9ZM780.9 316.5H782.1V321.2H780.9ZM813.9 323.6H815.1V325.6H813.9ZM821.9 322.4H823.1V330.2H821.9ZM825.9 332.8H827.1V357.1H825.9ZM829.9 356.8H831.1V371.8H829.9ZM853.9 378.6H855.1V380.6H853.9ZM861.9 385.7H863.1V389.9H861.9ZM898.9 363.7H900.1V371.6H898.9ZM910.9 370.8H912.1V372.4H910.9ZM934.9 385.5H936.1V387.4H934.9ZM975.9 366.8H977.1V373.3H975.9ZM979.9 370.8H981.1V390.8H979.9ZM999.9 379.9H1001.1V382.4H999.9Z" fill="#e41848"/>
<path d="M24 128.7H25.9V133.3H24ZM28 129H29.9V142.7H28ZM32 139.7H33.9V162.7H32ZM36 157.7H37.9V166.3H36ZM44 167.1H45.9V174.6H44ZM100 47.2H101.9V61.3H100ZM105 69.7H106.9V84.3H105ZM109 85.8H110.9V101.3H109ZM117 99.7H118.9V112.3H117ZM121 112.2H122.9V126.5H121ZM177 273.6H178.9V293.9H177ZM194 266.9H195.9V272.1H194ZM198 274.6H199.9V285.8H198ZM263 266.5H264.9V271.8H263ZM271 259.6H272.9V262.7H271ZM275 259.6H276.9V262.7H275ZM352 150.9H353.9V155.9H352ZM408 236.5H409.9V242.8H408ZM412 239.7H413.9V252.1H412ZM421 257.8H422.9V262.7H421ZM425 268.4H426.9V272.7H425ZM429 270.2H430.9V277.1H429ZM485 249H486.9V257.7H485ZM489 255.9H490.9V262.1H489ZM575 219H576.9V234.6H575ZM639 290.9H640.9V297.7H639ZM712 310.8H713.9V313.9H712ZM716 309H717.9V316.4H716ZM724 312.1H725.9V317.7H724ZM729 317.1H730.9V319.6H729ZM733 316.5H734.9V321.4H733ZM806 290.9H807.9V312.7H806ZM810 312.1H811.9V322.7H810ZM870 384.8H871.9V399.5H870ZM1008 375.9H1009.9V378.3H1008ZM1016 375.9H1017.9V377.9H1016ZM1024 382.1H1025.9V397.7H1024Z" fill="#ecaab6"/>
<path d="M40 167.7H41.5V173.3H40ZM113 99.7H114.5V112.3H113ZM137 177.2H138.5V179.2H137ZM186 278.3H187.5V285.2H186ZM291 220.2H292.5V222.2H291ZM295 221.7H296.5V223.7H295ZM331 179.6H332.5V186.5H331ZM336 160.9H337.5V188.9H336ZM340 162.7H341.5V167.7H340ZM344 162.7H345.5V167.1H344ZM348 157.7H349.5V166.5H348ZM417 254.7H418.5V256.7H417ZM433 282.2H434.5V284.2H433ZM469 242.8H470.5V245.3H469ZM481 250.4H482.5V252.4H481ZM494 262.2H495.5V264.2H494ZM498 258.4H499.5V260.9H498ZM502 258.7H503.5V260.7H502ZM510 252.3H511.5V254.3H510ZM558 227.7H559.5V230.3H558ZM562 227.7H563.5V230.3H562ZM566 225.3H567.5V230.9H566ZM603 282.3H604.5V284.3H603ZM635 288.4H636.5V301.5H635ZM643 285.3H644.5V293.3H643ZM648 274.7H649.5V283.3H648ZM652 276.5H653.5V281.5H652ZM684 292.2H685.5V294.2H684ZM773 320.4H774.5V322.4H773ZM777 318.4H778.5V320.4H777ZM789 302.7H790.5V309.3H789ZM793 300.9H794.5V306.5H793ZM797 298.4H798.5V301.5H797ZM838 377.2H839.5V379.2H838ZM846 374.7H847.5V376.7H846ZM858 381H859.5V383H858ZM866 388.3H867.5V390.8H866ZM874 398.9H875.5V401.4H874ZM878 395.8H879.5V397.8H878ZM907 369.6H908.5V371.6H907ZM955 375.9H956.5V380.2H955ZM960 373.4H961.5V378.3H960ZM964 377.1H965.5V380.2H964ZM992 381.7H993.5V383.7H992ZM1012 375.9H1013.5V378.3H1012ZM1020 381.5H1021.5V383.5H1020ZM1028 398.3H1029.5V400.3H1028ZM1037 386.5H1038.5V391.5H1037Z" fill="#d8d8d8"/>
<path d="M190 264.6H191.9V277.7H190ZM254 277.7H255.9V282.1H254ZM259 274.6H260.9V281.4H259ZM267 262.7H268.9V272.7H267ZM323 172.1H324.9V180.2H323ZM530 229H531.9V233H530ZM554 229H555.9V231.7H554ZM571 215.9H572.9V229H571ZM801 290.3H802.9V299.6H801ZM883 390.8H884.9V397.7H883ZM1032 388.4H1033.9V392.7H1032Z" fill="#a8dca8"/>
</g>
<g clip-path="url(#cp)">
<path d="M24.4 91.8C25.75 93.08 29.9 96.88 32.5 99.5C35.1 102.12 37.92 105.13 40 107.5C42.08 109.87 42.93 111.62 45 113.7C47.07 115.78 49.5 118.43 52.4 120C55.3 121.57 58.65 122.17 62.4 123.1C66.15 124.03 71.15 125.7 74.9 125.6C78.65 125.5 81.57 124.07 84.9 122.5C88.23 120.93 91.17 118.7 94.9 116.2C98.63 113.7 103.57 110 107.3 107.5C111.03 105 114.38 102.88 117.3 101.2C120.22 99.52 122.3 97.83 124.8 97.4C127.3 96.97 130.02 97.77 132.3 98.6C134.58 99.43 136.63 100.87 138.5 102.4C140.37 103.93 142.03 105.7 143.5 107.8C144.97 109.9 145.83 111.72 147.3 115C148.77 118.28 150.63 123.13 152.3 127.5C153.97 131.87 156.02 137.45 157.3 141.2C158.58 144.95 157.88 143.87 160 150C162.12 156.13 166.67 169 170 178C173.33 187 177.3 197 180 204C182.7 211 184.13 215.25 186.2 220C188.27 224.75 190.33 228.3 192.4 232.5C194.47 236.7 196.52 241.25 198.6 245.2C200.68 249.15 202.18 252.08 204.9 256.2C207.62 260.32 212 265.92 214.9 269.9C217.8 273.88 219.82 277.92 222.3 280.1C224.78 282.28 226.47 281.88 229.8 283C233.13 284.12 238.97 285.9 242.3 286.8C245.63 287.7 247.1 288.4 249.8 288.4C252.5 288.4 255.13 287.38 258.5 286.8C261.87 286.22 266.63 285.53 270 284.9C273.37 284.27 274.55 285.2 278.7 283C282.85 280.8 290.12 275.97 294.9 271.7C299.68 267.43 304.07 261.45 307.4 257.4C310.73 253.35 313.03 250.73 314.9 247.4C316.77 244.07 316.32 241.45 318.6 237.4C320.88 233.35 325.47 227.25 328.6 223.1C331.73 218.95 334.28 216.78 337.4 212.5C340.52 208.22 343.98 202 347.3 197.4C350.62 192.8 354.17 188.23 357.3 184.9C360.43 181.57 363.6 179.38 366.1 177.4C368.6 175.42 370.02 174.1 372.3 173C374.58 171.9 377.1 171.27 379.8 170.8C382.5 170.33 386.38 170.17 388.5 170.2C390.62 170.23 390.17 169.68 392.5 171C394.83 172.32 399.18 175.67 402.5 178.1C405.82 180.53 409.08 182.38 412.4 185.6C415.72 188.82 419.48 193.55 422.4 197.4C425.32 201.25 427.4 204.95 429.9 208.7C432.4 212.45 434.9 216.17 437.4 219.9C439.9 223.63 441.98 227.13 444.9 231.1C447.82 235.07 451.57 240.25 454.9 243.7C458.23 247.15 461.58 249.4 464.9 251.8C468.22 254.2 471.48 256.33 474.8 258.1C478.12 259.87 481.47 261.27 484.8 262.4C488.13 263.53 491.88 264.48 494.8 264.9C497.72 265.32 499.8 265.32 502.3 264.9C504.8 264.48 507.27 263.45 509.8 262.4C512.33 261.35 514.55 260.27 517.5 258.6C520.45 256.93 524.18 254.27 527.5 252.4C530.82 250.53 533.67 248.65 537.4 247.4C541.13 246.15 545.73 245.93 549.9 244.9C554.07 243.87 558.87 242.45 562.4 241.2C565.93 239.95 568.4 238.55 571.1 237.4C573.8 236.25 576.52 234.72 578.6 234.3C580.68 233.88 581.1 233.55 583.6 234.9C586.1 236.25 589.85 240 593.6 242.4C597.35 244.8 602.15 247.12 606.1 249.3C610.05 251.48 614.4 253.73 617.3 255.5C620.2 257.27 620.97 257.7 623.5 259.9C626.03 262.1 628.92 265.47 632.5 268.7C636.08 271.93 640.85 276.28 645 279.3C649.15 282.32 654.08 285.2 657.4 286.8C660.72 288.4 662.4 288.9 664.9 288.9C667.4 288.9 669.48 287.18 672.4 286.8C675.32 286.42 679.48 286.5 682.4 286.6C685.32 286.7 686.98 286.85 689.9 287.4C692.82 287.95 696.17 289.27 699.9 289.9C703.63 290.53 708.57 290.47 712.3 291.2C716.03 291.93 718.97 292.95 722.3 294.3C725.63 295.65 729.38 297.78 732.3 299.3C735.22 300.82 736.43 301.83 739.8 303.4C743.17 304.97 748.3 307.2 752.5 308.7C756.7 310.2 760.85 311.32 765 312.4C769.15 313.48 773.25 314.88 777.4 315.2C781.55 315.52 786.15 314.7 789.9 314.3C793.65 313.9 796.57 313.05 799.9 312.8C803.23 312.55 806.15 312.77 809.9 312.8C813.65 312.83 819.08 312.43 822.4 313C825.72 313.57 826.9 314.42 829.8 316.2C832.7 317.98 836.87 321.2 839.8 323.7C842.73 326.2 844.47 328.48 847.4 331.2C850.33 333.92 854.07 336.87 857.4 340C860.73 343.13 864.08 346.47 867.4 350C870.72 353.53 874.4 357.98 877.3 361.2C880.2 364.42 882.3 367.02 884.8 369.3C887.3 371.58 889.8 373.33 892.3 374.9C894.8 376.47 897.3 377.77 899.8 378.7C902.3 379.63 903.97 380.23 907.3 380.5C910.63 380.77 916.85 380.35 919.8 380.3C922.75 380.25 922.07 379.95 925 380.2C927.93 380.45 933.25 381.63 937.4 381.8C941.55 381.97 946.57 381.72 949.9 381.2C953.23 380.68 954.48 379.43 957.4 378.7C960.32 377.97 964.48 376.92 967.4 376.8C970.32 376.68 971.58 377.43 974.9 378C978.22 378.57 983.15 379.63 987.3 380.2C991.45 380.77 995.63 381.4 999.8 381.4C1003.97 381.4 1008.13 380.28 1012.3 380.2C1016.47 380.12 1020.02 380.55 1024.8 380.9C1029.58 381.25 1038.3 382.07 1041 382.3" stroke="#4a3c00" stroke-opacity="0.25" stroke-width="2.0" fill="none" stroke-linejoin="round"/>
<path d="M24.4 106.9C25.75 107.1 29.07 107.48 32.5 108.1C35.93 108.72 40.85 110.6 45 110.6C49.15 110.6 53.25 109.03 57.4 108.1C61.55 107.17 65.73 106.22 69.9 105C74.07 103.78 79.07 101.87 82.4 100.8C85.73 99.73 87.82 98.78 89.9 98.6C91.98 98.42 92 99.7 94.9 99.7C97.8 99.7 103.57 98.57 107.3 98.6C111.03 98.63 114.17 99.17 117.3 99.9C120.43 100.63 122.57 101.78 126.1 103C129.63 104.22 135.28 105.52 138.5 107.2C141.72 108.88 143.1 110.97 145.4 113.1C147.7 115.23 149.87 117.6 152.3 120C154.73 122.4 150.92 119 160 127.5C169.08 136 191.87 158.98 206.8 171C221.73 183.02 240.73 193.1 249.6 199.6C258.47 206.1 256.18 206.5 260 210C263.82 213.5 268.33 217.07 272.5 220.6C276.67 224.13 280.85 227.98 285 231.2C289.15 234.42 293.25 237.1 297.4 239.9C301.55 242.7 305.73 246.02 309.9 248C314.07 249.98 318.23 251.02 322.4 251.8C326.57 252.58 331.15 252.85 334.9 252.7C338.65 252.55 340.75 252.82 344.9 250.9C349.05 248.98 355.23 243.87 359.8 241.2C364.37 238.53 368.13 236.77 372.3 234.9C376.47 233.03 381.43 231.47 384.8 230C388.17 228.53 389.13 227.37 392.5 226.1C395.87 224.83 400.85 223.33 405 222.4C409.15 221.47 412 221.23 417.4 220.5C422.8 219.77 430.73 218.55 437.4 218C444.07 217.45 451.37 217.72 457.4 217.2C463.43 216.68 469.45 215.32 473.6 214.9C477.75 214.48 479.18 214.38 482.3 214.7C485.42 215.02 488.55 215.83 492.3 216.8C496.05 217.77 501.43 219.67 504.8 220.5C508.17 221.33 509.13 220.75 512.5 221.8C515.87 222.85 520.85 225.23 525 226.8C529.15 228.37 533.25 229.95 537.4 231.2C541.55 232.45 545.73 233.05 549.9 234.3C554.07 235.55 558.23 237.25 562.4 238.7C566.57 240.15 571.15 241.75 574.9 243C578.65 244.25 581.58 244.83 584.9 246.2C588.22 247.57 591.07 249.75 594.8 251.2C598.53 252.65 602.52 253.7 607.3 254.9C612.08 256.1 618.27 257.72 623.5 258.4C628.73 259.08 633.05 258.83 638.7 259C644.35 259.17 652.2 259.03 657.4 259.4C662.6 259.77 665.73 260.43 669.9 261.2C674.07 261.97 678.23 263.07 682.4 264C686.57 264.93 690.75 265.8 694.9 266.8C699.05 267.8 703.15 268.85 707.3 270C711.45 271.15 715.63 272.25 719.8 273.7C723.97 275.15 728.13 277.05 732.3 278.7C736.47 280.35 741.43 281.93 744.8 283.6C748.17 285.27 749.13 286.92 752.5 288.7C755.87 290.48 760.85 292.53 765 294.3C769.15 296.07 774.28 298.15 777.4 299.3C780.52 300.45 781.2 301.05 783.7 301.2C786.2 301.35 789.28 300.3 792.4 300.2C795.52 300.1 798.65 300.12 802.4 300.6C806.15 301.08 810.75 302.07 814.9 303.1C819.05 304.13 823.15 305.35 827.3 306.8C831.45 308.25 835.63 310.03 839.8 311.8C843.97 313.57 848.13 315.42 852.3 317.4C856.47 319.38 860.63 321.5 864.8 323.7C868.97 325.9 873.13 328.52 877.3 330.6C881.47 332.68 885.63 334.53 889.8 336.2C893.97 337.87 898.13 339.25 902.3 340.6C906.47 341.95 911.02 343.05 914.8 344.3C918.58 345.55 919.15 346.12 925 348.1C930.85 350.08 941.58 353.57 949.9 356.2C958.22 358.83 966.58 361.08 974.9 363.9C983.22 366.72 993.57 370.95 999.8 373.1C1006.03 375.25 1008.13 375.62 1012.3 376.8C1016.47 377.98 1020.02 379.28 1024.8 380.2C1029.58 381.12 1038.3 381.95 1041 382.3" stroke="#ff6b6b" stroke-opacity="0.85" stroke-width="1.15" fill="none" stroke-linejoin="round"/>
<path d="M24.4 91.8C25.75 93.08 29.9 96.88 32.5 99.5C35.1 102.12 37.92 105.13 40 107.5C42.08 109.87 42.93 111.62 45 113.7C47.07 115.78 49.5 118.43 52.4 120C55.3 121.57 58.65 122.17 62.4 123.1C66.15 124.03 71.15 125.7 74.9 125.6C78.65 125.5 81.57 124.07 84.9 122.5C88.23 120.93 91.17 118.7 94.9 116.2C98.63 113.7 103.57 110 107.3 107.5C111.03 105 114.38 102.88 117.3 101.2C120.22 99.52 122.3 97.83 124.8 97.4C127.3 96.97 130.02 97.77 132.3 98.6C134.58 99.43 136.63 100.87 138.5 102.4C140.37 103.93 142.03 105.7 143.5 107.8C144.97 109.9 145.83 111.72 147.3 115C148.77 118.28 150.63 123.13 152.3 127.5C153.97 131.87 156.02 137.45 157.3 141.2C158.58 144.95 157.88 143.87 160 150C162.12 156.13 166.67 169 170 178C173.33 187 177.3 197 180 204C182.7 211 184.13 215.25 186.2 220C188.27 224.75 190.33 228.3 192.4 232.5C194.47 236.7 196.52 241.25 198.6 245.2C200.68 249.15 202.18 252.08 204.9 256.2C207.62 260.32 212 265.92 214.9 269.9C217.8 273.88 219.82 277.92 222.3 280.1C224.78 282.28 226.47 281.88 229.8 283C233.13 284.12 238.97 285.9 242.3 286.8C245.63 287.7 247.1 288.4 249.8 288.4C252.5 288.4 255.13 287.38 258.5 286.8C261.87 286.22 266.63 285.53 270 284.9C273.37 284.27 274.55 285.2 278.7 283C282.85 280.8 290.12 275.97 294.9 271.7C299.68 267.43 304.07 261.45 307.4 257.4C310.73 253.35 313.03 250.73 314.9 247.4C316.77 244.07 316.32 241.45 318.6 237.4C320.88 233.35 325.47 227.25 328.6 223.1C331.73 218.95 334.28 216.78 337.4 212.5C340.52 208.22 343.98 202 347.3 197.4C350.62 192.8 354.17 188.23 357.3 184.9C360.43 181.57 363.6 179.38 366.1 177.4C368.6 175.42 370.02 174.1 372.3 173C374.58 171.9 377.1 171.27 379.8 170.8C382.5 170.33 386.38 170.17 388.5 170.2C390.62 170.23 390.17 169.68 392.5 171C394.83 172.32 399.18 175.67 402.5 178.1C405.82 180.53 409.08 182.38 412.4 185.6C415.72 188.82 419.48 193.55 422.4 197.4C425.32 201.25 427.4 204.95 429.9 208.7C432.4 212.45 434.9 216.17 437.4 219.9C439.9 223.63 441.98 227.13 444.9 231.1C447.82 235.07 451.57 240.25 454.9 243.7C458.23 247.15 461.58 249.4 464.9 251.8C468.22 254.2 471.48 256.33 474.8 258.1C478.12 259.87 481.47 261.27 484.8 262.4C488.13 263.53 491.88 264.48 494.8 264.9C497.72 265.32 499.8 265.32 502.3 264.9C504.8 264.48 507.27 263.45 509.8 262.4C512.33 261.35 514.55 260.27 517.5 258.6C520.45 256.93 524.18 254.27 527.5 252.4C530.82 250.53 533.67 248.65 537.4 247.4C541.13 246.15 545.73 245.93 549.9 244.9C554.07 243.87 558.87 242.45 562.4 241.2C565.93 239.95 568.4 238.55 571.1 237.4C573.8 236.25 576.52 234.72 578.6 234.3C580.68 233.88 581.1 233.55 583.6 234.9C586.1 236.25 589.85 240 593.6 242.4C597.35 244.8 602.15 247.12 606.1 249.3C610.05 251.48 614.4 253.73 617.3 255.5C620.2 257.27 620.97 257.7 623.5 259.9C626.03 262.1 628.92 265.47 632.5 268.7C636.08 271.93 640.85 276.28 645 279.3C649.15 282.32 654.08 285.2 657.4 286.8C660.72 288.4 662.4 288.9 664.9 288.9C667.4 288.9 669.48 287.18 672.4 286.8C675.32 286.42 679.48 286.5 682.4 286.6C685.32 286.7 686.98 286.85 689.9 287.4C692.82 287.95 696.17 289.27 699.9 289.9C703.63 290.53 708.57 290.47 712.3 291.2C716.03 291.93 718.97 292.95 722.3 294.3C725.63 295.65 729.38 297.78 732.3 299.3C735.22 300.82 736.43 301.83 739.8 303.4C743.17 304.97 748.3 307.2 752.5 308.7C756.7 310.2 760.85 311.32 765 312.4C769.15 313.48 773.25 314.88 777.4 315.2C781.55 315.52 786.15 314.7 789.9 314.3C793.65 313.9 796.57 313.05 799.9 312.8C803.23 312.55 806.15 312.77 809.9 312.8C813.65 312.83 819.08 312.43 822.4 313C825.72 313.57 826.9 314.42 829.8 316.2C832.7 317.98 836.87 321.2 839.8 323.7C842.73 326.2 844.47 328.48 847.4 331.2C850.33 333.92 854.07 336.87 857.4 340C860.73 343.13 864.08 346.47 867.4 350C870.72 353.53 874.4 357.98 877.3 361.2C880.2 364.42 882.3 367.02 884.8 369.3C887.3 371.58 889.8 373.33 892.3 374.9C894.8 376.47 897.3 377.77 899.8 378.7C902.3 379.63 903.97 380.23 907.3 380.5C910.63 380.77 916.85 380.35 919.8 380.3C922.75 380.25 922.07 379.95 925 380.2C927.93 380.45 933.25 381.63 937.4 381.8C941.55 381.97 946.57 381.72 949.9 381.2C953.23 380.68 954.48 379.43 957.4 378.7C960.32 377.97 964.48 376.92 967.4 376.8C970.32 376.68 971.58 377.43 974.9 378C978.22 378.57 983.15 379.63 987.3 380.2C991.45 380.77 995.63 381.4 999.8 381.4C1003.97 381.4 1008.13 380.28 1012.3 380.2C1016.47 380.12 1020.02 380.55 1024.8 380.9C1029.58 381.25 1038.3 382.07 1041 382.3" stroke="#ffd700" stroke-opacity="0.85" stroke-width="1.2" fill="none" stroke-linejoin="round"/>
</g>
<g clip-path="url(#wm)">
<text x="493" y="348.3" text-anchor="middle" font-size="66.2" font-weight="bold" fill="#4a4a4a" fill-opacity="0.11">forexsignale.trade</text>
<text x="494" y="481.3" text-anchor="middle" font-size="59" font-weight="bold" fill="#4a4a4a" fill-opacity="0.09">HFG</text>
<text x="494.6" y="496" text-anchor="middle" font-size="16.5" fill="#4a4a4a" fill-opacity="0.09">HelloFresh SE</text>
</g>
<g clip-path="url(#cp)">
<path d="M23.5 62.3H1065.5" stroke="#2fae66" stroke-opacity="0.85" stroke-width="2" stroke-dasharray="7.4 3.64" fill="none"/>
<path d="M23.5 405.2H1065.5" stroke="#de3026" stroke-opacity="0.9" stroke-width="1.9" stroke-dasharray="7.4 3.64" fill="none"/>
<circle cx="44.6" cy="111.6" r="3.2" fill="#f41a45"/>
<circle cx="121.4" cy="101.5" r="3.2" fill="#0fc25a"/>
<circle cx="145.4" cy="113.1" r="3.2" fill="#f41a45"/>
<circle cx="315.5" cy="247.4" r="3.2" fill="#0fc25a"/>
<circle cx="437.4" cy="219.5" r="3.2" fill="#f41a45"/>
<circle cx="571.5" cy="240.6" r="3.2" fill="#0fc25a"/>
<circle cx="623.5" cy="259.5" r="3.2" fill="#f41a45"/>
<circle cx="1028.6" cy="381.4" r="3.2" fill="#0fc25a"/>
<circle cx="1041.8" cy="382.4" r="3.2" fill="#f41a45"/>
</g>
<rect x="37.2" y="407.1" width="12.6" height="14.8" fill="#f41a45"/>
<text x="43.5" y="418.3" text-anchor="middle" font-size="10.9" font-weight="bold" fill="#ffffff">S</text>
<rect x="114" y="407.1" width="13.4" height="14.8" fill="#0fc25a"/>
<text x="120.7" y="418.3" text-anchor="middle" font-size="10.9" font-weight="bold" fill="#ffffff">B</text>
<rect x="138.7" y="407.1" width="12.6" height="14.8" fill="#f41a45"/>
<text x="145" y="418.3" text-anchor="middle" font-size="10.9" font-weight="bold" fill="#ffffff">S</text>
<rect x="308.8" y="407.1" width="13.4" height="14.8" fill="#0fc25a"/>
<text x="315.5" y="418.3" text-anchor="middle" font-size="10.9" font-weight="bold" fill="#ffffff">B</text>
<rect x="430.8" y="407.1" width="12.6" height="14.8" fill="#f41a45"/>
<text x="437.1" y="418.3" text-anchor="middle" font-size="10.9" font-weight="bold" fill="#ffffff">S</text>
<rect x="563.9" y="407.1" width="13.4" height="14.8" fill="#0fc25a"/>
<text x="570.6" y="418.3" text-anchor="middle" font-size="10.9" font-weight="bold" fill="#ffffff">B</text>
<rect x="616.9" y="407.1" width="12.6" height="14.8" fill="#f41a45"/>
<text x="623.2" y="418.3" text-anchor="middle" font-size="10.9" font-weight="bold" fill="#ffffff">S</text>
<rect x="1021.1" y="407.1" width="13.4" height="14.8" fill="#0fc25a"/>
<text x="1027.8" y="418.3" text-anchor="middle" font-size="10.9" font-weight="bold" fill="#ffffff">B</text>
<rect x="1034.4" y="407.1" width="12.6" height="14.8" fill="#f41a45"/>
<text x="1040.7" y="418.3" text-anchor="middle" font-size="10.9" font-weight="bold" fill="#ffffff">S</text>
<g clip-path="url(#cv)" shape-rendering="crispEdges">
<rect x="21.97" y="582" width="4.2" height="12.5" fill="#ff1400"/>
<rect x="26.03" y="578.9" width="4.2" height="15.6" fill="#ff1400"/>
<rect x="30.08" y="572.9" width="4.2" height="21.6" fill="#ff1400"/>
<rect x="34.13" y="568.9" width="4.2" height="25.6" fill="#ff1400"/>
<rect x="38.18" y="567" width="4.2" height="27.5" fill="#1f8f1f"/>
<rect x="42.23" y="582.9" width="4.2" height="11.6" fill="#ff1400"/>
<rect x="46.29" y="577" width="4.2" height="17.5" fill="#1f8f1f"/>
<rect x="50.34" y="572" width="4.2" height="22.5" fill="#1f8f1f"/>
<rect x="54.39" y="574.1" width="4.2" height="20.4" fill="#1f8f1f"/>
<rect x="62.49" y="582" width="4.2" height="12.5" fill="#1f8f1f"/>
<rect x="66.55" y="577.9" width="4.2" height="16.6" fill="#ff1400"/>
<rect x="70.6" y="571" width="4.2" height="23.5" fill="#1f8f1f"/>
<rect x="74.65" y="574.8" width="4.2" height="19.7" fill="#ff1400"/>
<rect x="78.7" y="561" width="4.2" height="33.5" fill="#1f8f1f"/>
<rect x="86.81" y="577" width="4.2" height="17.5" fill="#ff1400"/>
<rect x="90.86" y="578.9" width="4.2" height="15.6" fill="#ff1400"/>
<rect x="98.96" y="578.9" width="4.2" height="15.6" fill="#ff1400"/>
<rect x="103.01" y="577.9" width="4.2" height="16.6" fill="#ff1400"/>
<rect x="107.07" y="568.9" width="4.2" height="25.6" fill="#ff1400"/>
<rect x="111.12" y="577.9" width="4.2" height="16.6" fill="#1f8f1f"/>
<rect x="115.17" y="578.9" width="4.2" height="15.6" fill="#ff1400"/>
<rect x="119.22" y="576" width="4.2" height="18.5" fill="#ff1400"/>
<rect x="123.27" y="570.2" width="4.2" height="24.3" fill="#ff1400"/>
<rect x="127.33" y="557" width="4.2" height="37.5" fill="#ff1400"/>
<rect x="131.38" y="559.9" width="4.2" height="34.6" fill="#ff1400"/>
<rect x="135.43" y="568.9" width="4.2" height="25.6" fill="#1f8f1f"/>
<rect x="139.48" y="576" width="4.2" height="18.5" fill="#ff1400"/>
<rect x="143.53" y="509.8" width="4.2" height="84.7" fill="#ff1400"/>
<rect x="147.59" y="514.3" width="4.2" height="80.2" fill="#1f8f1f"/>
<rect x="151.64" y="551.1" width="4.2" height="43.4" fill="#ff1400"/>
<rect x="155.69" y="557.9" width="4.2" height="36.6" fill="#1f8f1f"/>
<rect x="163.79" y="554.9" width="4.2" height="39.6" fill="#ff1400"/>
<rect x="167.85" y="567" width="4.2" height="27.5" fill="#ff1400"/>
<rect x="171.9" y="558.9" width="4.2" height="35.6" fill="#ff1400"/>
<rect x="175.95" y="536.8" width="4.2" height="57.7" fill="#ff1400"/>
<rect x="184.05" y="568.9" width="4.2" height="25.6" fill="#1f8f1f"/>
<rect x="188.11" y="565.2" width="4.2" height="29.3" fill="#1f8f1f"/>
<rect x="192.16" y="571" width="4.2" height="23.5" fill="#ff1400"/>
<rect x="196.21" y="575.1" width="4.2" height="19.4" fill="#ff1400"/>
<rect x="200.26" y="562.9" width="4.2" height="31.6" fill="#ff1400"/>
<rect x="204.31" y="578.9" width="4.2" height="15.6" fill="#1f8f1f"/>
<rect x="208.37" y="574.1" width="4.2" height="20.4" fill="#1f8f1f"/>
<rect x="212.42" y="571" width="4.2" height="23.5" fill="#1f8f1f"/>
<rect x="216.47" y="550.8" width="4.2" height="43.7" fill="#ff1400"/>
<rect x="220.52" y="551.1" width="4.2" height="43.4" fill="#1f8f1f"/>
<rect x="224.57" y="568.9" width="4.2" height="25.6" fill="#1f8f1f"/>
<rect x="228.63" y="562.9" width="4.2" height="31.6" fill="#ff1400"/>
<rect x="232.68" y="563.9" width="4.2" height="30.6" fill="#1f8f1f"/>
<rect x="236.73" y="546.8" width="4.2" height="47.7" fill="#ff1400"/>
<rect x="240.78" y="574.1" width="4.2" height="20.4" fill="#1f8f1f"/>
<rect x="248.89" y="576" width="4.2" height="18.5" fill="#1f8f1f"/>
<rect x="252.94" y="580.1" width="4.2" height="14.4" fill="#1f8f1f"/>
<rect x="256.99" y="558.9" width="4.2" height="35.6" fill="#1f8f1f"/>
<rect x="261.04" y="561" width="4.2" height="33.5" fill="#ff1400"/>
<rect x="265.09" y="554.9" width="4.2" height="39.6" fill="#1f8f1f"/>
<rect x="269.15" y="582.9" width="4.2" height="11.6" fill="#1f8f1f"/>
<rect x="273.2" y="564.9" width="4.2" height="29.6" fill="#ff1400"/>
<rect x="281.3" y="565.2" width="4.2" height="29.3" fill="#1f8f1f"/>
<rect x="285.35" y="570.2" width="4.2" height="24.3" fill="#1f8f1f"/>
<rect x="289.41" y="581.1" width="4.2" height="13.4" fill="#ff1400"/>
<rect x="293.46" y="570.2" width="4.2" height="24.3" fill="#1f8f1f"/>
<rect x="297.51" y="582" width="4.2" height="12.5" fill="#1f8f1f"/>
<rect x="301.56" y="582.9" width="4.2" height="11.6" fill="#1f8f1f"/>
<rect x="305.61" y="580.1" width="4.2" height="14.4" fill="#ff1400"/>
<rect x="309.67" y="578" width="4.2" height="16.5" fill="#1f8f1f"/>
<rect x="313.72" y="582" width="4.2" height="12.5" fill="#1f8f1f"/>
<rect x="321.82" y="582.9" width="4.2" height="11.6" fill="#1f8f1f"/>
<rect x="329.93" y="582" width="4.2" height="12.5" fill="#ff1400"/>
<rect x="333.98" y="571" width="4.2" height="23.5" fill="#1f8f1f"/>
<rect x="338.03" y="584.1" width="4.2" height="10.4" fill="#ff1400"/>
<rect x="342.08" y="582" width="4.2" height="12.5" fill="#1f8f1f"/>
<rect x="346.13" y="579.1" width="4.2" height="15.4" fill="#1f8f1f"/>
<rect x="350.19" y="585.1" width="4.2" height="9.4" fill="#ff1400"/>
<rect x="354.24" y="577" width="4.2" height="17.5" fill="#1f8f1f"/>
<rect x="358.29" y="586.1" width="4.2" height="8.4" fill="#ff1400"/>
<rect x="362.34" y="582.9" width="4.2" height="11.6" fill="#ff1400"/>
<rect x="366.39" y="585.1" width="4.2" height="9.4" fill="#ff1400"/>
<rect x="370.45" y="585.1" width="4.2" height="9.4" fill="#1f8f1f"/>
<rect x="374.5" y="562" width="4.2" height="32.5" fill="#ff1400"/>
<rect x="378.55" y="581.1" width="4.2" height="13.4" fill="#ff1400"/>
<rect x="394.76" y="577" width="4.2" height="17.5" fill="#1f8f1f"/>
<rect x="398.81" y="583.3" width="4.2" height="11.2" fill="#1f8f1f"/>
<rect x="402.86" y="584.1" width="4.2" height="10.4" fill="#ff1400"/>
<rect x="406.91" y="582" width="4.2" height="12.5" fill="#ff1400"/>
<rect x="410.97" y="582" width="4.2" height="12.5" fill="#ff1400"/>
<rect x="415.02" y="585.1" width="4.2" height="9.4" fill="#1f8f1f"/>
<rect x="419.07" y="575.1" width="4.2" height="19.4" fill="#ff1400"/>
<rect x="423.12" y="584.1" width="4.2" height="10.4" fill="#ff1400"/>
<rect x="427.17" y="564.9" width="4.2" height="29.6" fill="#ff1400"/>
<rect x="431.23" y="573.3" width="4.2" height="21.2" fill="#1f8f1f"/>
<rect x="435.28" y="582" width="4.2" height="12.5" fill="#ff1400"/>
<rect x="439.33" y="577" width="4.2" height="17.5" fill="#ff1400"/>
<rect x="443.38" y="581.1" width="4.2" height="13.4" fill="#1f8f1f"/>
<rect x="451.49" y="582" width="4.2" height="12.5" fill="#ff1400"/>
<rect x="455.54" y="575.1" width="4.2" height="19.4" fill="#1f8f1f"/>
<rect x="459.59" y="570.2" width="4.2" height="24.3" fill="#1f8f1f"/>
<rect x="463.64" y="581.1" width="4.2" height="13.4" fill="#1f8f1f"/>
<rect x="467.69" y="587" width="4.2" height="7.5" fill="#ff1400"/>
<rect x="471.75" y="582.9" width="4.2" height="11.6" fill="#ff1400"/>
<rect x="475.8" y="582.9" width="4.2" height="11.6" fill="#ff1400"/>
<rect x="479.85" y="580.1" width="4.2" height="14.4" fill="#1f8f1f"/>
<rect x="483.9" y="582.9" width="4.2" height="11.6" fill="#ff1400"/>
<rect x="487.95" y="584.1" width="4.2" height="10.4" fill="#ff1400"/>
<rect x="492.01" y="584.1" width="4.2" height="10.4" fill="#1f8f1f"/>
<rect x="496.06" y="584.1" width="4.2" height="10.4" fill="#1f8f1f"/>
<rect x="504.16" y="568.9" width="4.2" height="25.6" fill="#1f8f1f"/>
<rect x="508.21" y="582" width="4.2" height="12.5" fill="#1f8f1f"/>
<rect x="512.27" y="583.3" width="4.2" height="11.2" fill="#1f8f1f"/>
<rect x="516.32" y="587" width="4.2" height="7.5" fill="#ff1400"/>
<rect x="524.42" y="571" width="4.2" height="23.5" fill="#1f8f1f"/>
<rect x="528.47" y="586.1" width="4.2" height="8.4" fill="#1f8f1f"/>
<rect x="532.53" y="577" width="4.2" height="17.5" fill="#ff1400"/>
<rect x="536.58" y="588.2" width="4.2" height="6.3" fill="#1f8f1f"/>
<rect x="540.63" y="588.2" width="4.2" height="6.3" fill="#ff1400"/>
<rect x="544.68" y="582" width="4.2" height="12.5" fill="#1f8f1f"/>
<rect x="548.73" y="586.1" width="4.2" height="8.4" fill="#ff1400"/>
<rect x="552.79" y="587" width="4.2" height="7.5" fill="#1f8f1f"/>
<rect x="556.84" y="587" width="4.2" height="7.5" fill="#ff1400"/>
<rect x="560.89" y="587" width="4.2" height="7.5" fill="#1f8f1f"/>
<rect x="564.94" y="585.1" width="4.2" height="9.4" fill="#1f8f1f"/>
<rect x="568.99" y="586.1" width="4.2" height="8.4" fill="#1f8f1f"/>
<rect x="573.05" y="582.9" width="4.2" height="11.6" fill="#ff1400"/>
<rect x="581.15" y="574.1" width="4.2" height="20.4" fill="#ff1400"/>
<rect x="585.2" y="442.9" width="4.2" height="151.6" fill="#ff1400"/>
<rect x="589.25" y="519" width="4.2" height="75.5" fill="#ff1400"/>
<rect x="593.31" y="542.1" width="4.2" height="52.4" fill="#1f8f1f"/>
<rect x="597.36" y="558.9" width="4.2" height="35.6" fill="#1f8f1f"/>
<rect x="601.41" y="575.1" width="4.2" height="19.4" fill="#ff1400"/>
<rect x="605.46" y="581.1" width="4.2" height="13.4" fill="#1f8f1f"/>
<rect x="609.51" y="580.1" width="4.2" height="14.4" fill="#ff1400"/>
<rect x="613.57" y="580.1" width="4.2" height="14.4" fill="#1f8f1f"/>
<rect x="617.62" y="572.9" width="4.2" height="21.6" fill="#ff1400"/>
<rect x="621.67" y="574.1" width="4.2" height="20.4" fill="#ff1400"/>
<rect x="625.72" y="577.9" width="4.2" height="16.6" fill="#ff1400"/>
<rect x="633.83" y="576" width="4.2" height="18.5" fill="#1f8f1f"/>
<rect x="637.88" y="582" width="4.2" height="12.5" fill="#ff1400"/>
<rect x="641.93" y="576" width="4.2" height="18.5" fill="#1f8f1f"/>
<rect x="645.98" y="580.1" width="4.2" height="14.4" fill="#1f8f1f"/>
<rect x="650.03" y="575.1" width="4.2" height="19.4" fill="#1f8f1f"/>
<rect x="658.14" y="581.1" width="4.2" height="13.4" fill="#1f8f1f"/>
<rect x="666.24" y="572" width="4.2" height="22.5" fill="#1f8f1f"/>
<rect x="670.29" y="575.1" width="4.2" height="19.4" fill="#ff1400"/>
<rect x="674.35" y="564.9" width="4.2" height="29.6" fill="#1f8f1f"/>
<rect x="678.4" y="577" width="4.2" height="17.5" fill="#ff1400"/>
<rect x="682.45" y="570.2" width="4.2" height="24.3" fill="#ff1400"/>
<rect x="686.5" y="570.2" width="4.2" height="24.3" fill="#1f8f1f"/>
<rect x="690.55" y="576" width="4.2" height="18.5" fill="#ff1400"/>
<rect x="698.66" y="562.9" width="4.2" height="31.6" fill="#ff1400"/>
<rect x="702.71" y="581.1" width="4.2" height="13.4" fill="#1f8f1f"/>
<rect x="706.76" y="577" width="4.2" height="17.5" fill="#ff1400"/>
<rect x="710.81" y="580.1" width="4.2" height="14.4" fill="#1f8f1f"/>
<rect x="714.87" y="575.1" width="4.2" height="19.4" fill="#ff1400"/>
<rect x="722.97" y="572" width="4.2" height="22.5" fill="#ff1400"/>
<rect x="727.02" y="563.9" width="4.2" height="30.6" fill="#ff1400"/>
<rect x="731.07" y="568.9" width="4.2" height="25.6" fill="#1f8f1f"/>
<rect x="739.18" y="534" width="4.2" height="60.5" fill="#ff1400"/>
<rect x="751.33" y="574.1" width="4.2" height="20.4" fill="#ff1400"/>
<rect x="755.39" y="577.9" width="4.2" height="16.6" fill="#ff1400"/>
<rect x="759.44" y="572" width="4.2" height="22.5" fill="#1f8f1f"/>
<rect x="763.49" y="577" width="4.2" height="17.5" fill="#ff1400"/>
<rect x="767.54" y="574.1" width="4.2" height="20.4" fill="#ff1400"/>
<rect x="771.59" y="576" width="4.2" height="18.5" fill="#1f8f1f"/>
<rect x="775.65" y="552.9" width="4.2" height="41.6" fill="#ff1400"/>
<rect x="779.7" y="574.1" width="4.2" height="20.4" fill="#ff1400"/>
<rect x="783.75" y="557.9" width="4.2" height="36.6" fill="#1f8f1f"/>
<rect x="787.8" y="576" width="4.2" height="18.5" fill="#1f8f1f"/>
<rect x="795.91" y="577" width="4.2" height="17.5" fill="#1f8f1f"/>
<rect x="799.96" y="557.9" width="4.2" height="36.6" fill="#1f8f1f"/>
<rect x="804.01" y="557" width="4.2" height="37.5" fill="#ff1400"/>
<rect x="808.06" y="540.8" width="4.2" height="53.7" fill="#ff1400"/>
<rect x="812.11" y="535.8" width="4.2" height="58.7" fill="#ff1400"/>
<rect x="816.17" y="561" width="4.2" height="33.5" fill="#1f8f1f"/>
<rect x="820.22" y="567" width="4.2" height="27.5" fill="#ff1400"/>
<rect x="824.27" y="542.1" width="4.2" height="52.4" fill="#ff1400"/>
<rect x="828.32" y="460" width="4.2" height="134.5" fill="#ff1400"/>
<rect x="836.43" y="562.9" width="4.2" height="31.6" fill="#ff1400"/>
<rect x="844.53" y="579.1" width="4.2" height="15.4" fill="#ff1400"/>
<rect x="852.63" y="572" width="4.2" height="22.5" fill="#ff1400"/>
<rect x="856.69" y="582" width="4.2" height="12.5" fill="#1f8f1f"/>
<rect x="860.74" y="575.1" width="4.2" height="19.4" fill="#ff1400"/>
<rect x="864.79" y="581.1" width="4.2" height="13.4" fill="#1f8f1f"/>
<rect x="868.84" y="570.2" width="4.2" height="24.3" fill="#ff1400"/>
<rect x="872.89" y="563.9" width="4.2" height="30.6" fill="#1f8f1f"/>
<rect x="876.95" y="567" width="4.2" height="27.5" fill="#ff1400"/>
<rect x="881" y="580.1" width="4.2" height="14.4" fill="#1f8f1f"/>
<rect x="889.1" y="581.1" width="4.2" height="13.4" fill="#1f8f1f"/>
<rect x="893.15" y="576" width="4.2" height="18.5" fill="#1f8f1f"/>
<rect x="897.21" y="568.9" width="4.2" height="25.6" fill="#ff1400"/>
<rect x="901.26" y="577.9" width="4.2" height="16.6" fill="#1f8f1f"/>
<rect x="905.31" y="577" width="4.2" height="17.5" fill="#1f8f1f"/>
<rect x="909.36" y="571" width="4.2" height="23.5" fill="#ff1400"/>
<rect x="913.41" y="575.1" width="4.2" height="19.4" fill="#1f8f1f"/>
<rect x="921.52" y="554.9" width="4.2" height="39.6" fill="#1f8f1f"/>
<rect x="929.62" y="585.1" width="4.2" height="9.4" fill="#1f8f1f"/>
<rect x="933.67" y="584.1" width="4.2" height="10.4" fill="#ff1400"/>
<rect x="953.93" y="491.2" width="4.2" height="103.3" fill="#ff1400"/>
<rect x="957.99" y="574.1" width="4.2" height="20.4" fill="#1f8f1f"/>
<rect x="962.04" y="579.1" width="4.2" height="15.4" fill="#ff1400"/>
<rect x="966.09" y="574.1" width="4.2" height="20.4" fill="#1f8f1f"/>
<rect x="970.14" y="552.1" width="4.2" height="42.4" fill="#1f8f1f"/>
<rect x="974.19" y="564.9" width="4.2" height="29.6" fill="#ff1400"/>
<rect x="978.25" y="557" width="4.2" height="37.5" fill="#ff1400"/>
<rect x="982.3" y="576" width="4.2" height="18.5" fill="#1f8f1f"/>
<rect x="986.35" y="576" width="4.2" height="18.5" fill="#1f8f1f"/>
<rect x="990.4" y="577.9" width="4.2" height="16.6" fill="#1f8f1f"/>
<rect x="994.45" y="572.9" width="4.2" height="21.6" fill="#1f8f1f"/>
<rect x="998.51" y="572" width="4.2" height="22.5" fill="#ff1400"/>
<rect x="1002.56" y="573.3" width="4.2" height="21.2" fill="#1f8f1f"/>
<rect x="1006.61" y="582" width="4.2" height="12.5" fill="#ff1400"/>
<rect x="1010.66" y="584.1" width="4.2" height="10.4" fill="#ff1400"/>
<rect x="1014.71" y="578.3" width="4.2" height="16.2" fill="#ff1400"/>
<rect x="1018.77" y="584.1" width="4.2" height="10.4" fill="#1f8f1f"/>
<rect x="1022.82" y="568.9" width="4.2" height="25.6" fill="#ff1400"/>
<rect x="1026.87" y="572.9" width="4.2" height="21.6" fill="#ff1400"/>
<rect x="1030.92" y="577" width="4.2" height="17.5" fill="#1f8f1f"/>
<rect x="1034.97" y="585.1" width="4.2" height="9.4" fill="#ff1400"/>
<rect x="1039.03" y="579.1" width="4.2" height="15.4" fill="#1f8f1f"/>
</g>
<rect x="23.5" y="12.5" width="1042.0" height="415.5" fill="none" stroke="#909090" stroke-width="1"/>
<path d="M23.5 428.0H1065.5" stroke="#a4a4a4" stroke-width="1.6" fill="none"/>
<path d="M23.5 428.0V594.5M1065.5 428.0V594.5M23.5 594.5H1065.5" fill="none" stroke="#8c8c8c" stroke-width="1"/>
<path d="M150 55.2L112 61.2" stroke="#2bc46a" stroke-width="1.9" fill="none"/>
<path d="M107.5 61.9L115.2 57.2L116.3 64.2Z" fill="#2bc46a" stroke="#2bc46a" stroke-width="1" stroke-linejoin="miter"/>
<rect x="150.7" y="41.2" width="88.5" height="17.9" rx="3" ry="3" fill="#0c0c0c" stroke="#2bc46a" stroke-opacity="0.85" stroke-width="2"/>
<text x="153.0" y="53.9" font-size="12.6" font-weight="bold" fill="#2bc46a">$12.99 52W</text>
<path d="M984 411L1020 405.3" stroke="#e53b30" stroke-width="1.9" fill="none"/>
<path d="M1024.5 404.6L1016 401.9L1017.1 409Z" fill="#e53b30" stroke="#e53b30" stroke-width="1" stroke-linejoin="miter"/>
<rect x="902.9" y="407.6" width="79.30000000000007" height="17.799999999999955" rx="3" ry="3" fill="#0c0c0c" stroke="#e53b30" stroke-opacity="0.85" stroke-width="2"/>
<text x="904.3" y="421.1" font-size="12.6" font-weight="bold" fill="#e53b30">$5.20 52W</text>
<text x="925.9" y="58.0" font-size="12.5" font-weight="bold" fill="#ffd700">■ SMA 20</text>
<text x="925.9" y="74.2" font-size="12.5" font-weight="bold" fill="#ff6b6b">■ SMA 50</text>
<path d="M1065.5 370.3h4.8M1065.5 282.38h4.8M1065.5 194.46h4.8M1065.5 106.54h4.8M1065.5 18.62h4.8M1065.5 594.5h4.8M1065.5 557.4h4.8M1065.5 520.3h4.8M1065.5 483.2h4.8M1065.5 446.1h4.8M40.21 594.5v4.8M121.25 594.5v4.8M206.34 594.5v4.8M287.38 594.5v4.8M372.47 594.5v4.8M457.56 594.5v4.8M550.76 594.5v4.8M635.85 594.5v4.8M725 594.5v4.8M818.19 594.5v4.8M899.23 594.5v4.8M976.22 594.5v4.8" stroke="#e6e6e6" stroke-width="1.1" fill="none"/>
<text x="1075.4" y="375.6" font-size="13.6" fill="#e6e6e6">6.00</text>
<text x="1075.4" y="287.68" font-size="13.6" fill="#e6e6e6">8.00</text>
<text x="1075.4" y="199.76" font-size="13.6" fill="#e6e6e6">10.0</text>
<text x="1075.4" y="111.84" font-size="13.6" fill="#e6e6e6">12.0</text>
<text x="1075.4" y="23.92" font-size="13.6" fill="#e6e6e6">14.0</text>
<text x="1075.4" y="600" font-size="13.6" fill="#e6e6e6">0</text>
<text x="1075.4" y="562.9" font-size="13.6" fill="#e6e6e6">2</text>
<text x="1075.4" y="525.8" font-size="13.6" fill="#e6e6e6">4</text>
<text x="1075.4" y="488.7" font-size="13.6" fill="#e6e6e6">6</text>
<text x="1075.4" y="451.6" font-size="13.6" fill="#e6e6e6">8</text>
<text transform="translate(1121.8 223) rotate(-90)" text-anchor="middle" font-size="13.6" fill="#e6e6e6">Preis</text>
<text transform="translate(1098.5 513.2) rotate(-90)" text-anchor="middle" font-size="13.6" fill="#e6e6e6">Volumen</text>
<text transform="translate(1120.3 507.6) rotate(-90)" text-anchor="middle" font-size="13.6" fill="#e6e6e6">10<tspan font-size="10" dy="-5.4">6</tspan></text>
<text transform="translate(37.81 632.1) rotate(-45)" text-anchor="middle" font-size="13.6" fill="#e6e6e6" dy="4.9">Feb 2025</text>
<text transform="translate(203.94 632.1) rotate(-45)" text-anchor="middle" font-size="13.6" fill="#e6e6e6" dy="4.9">Apr 2025</text>
<text transform="translate(370.07 632.1) rotate(-45)" text-anchor="middle" font-size="13.6" fill="#e6e6e6" dy="4.9">Jun 2025</text>
<text transform="translate(548.36 632.1) rotate(-45)" text-anchor="middle" font-size="13.6" fill="#e6e6e6" dy="4.9">Aug 2025</text>
<text transform="translate(722.6 632.1) rotate(-45)" text-anchor="middle" font-size="13.6" fill="#e6e6e6" dy="4.9">Oct 2025</text>
<text transform="translate(896.83 632.1) rotate(-45)" text-anchor="middle" font-size="13.6" fill="#e6e6e6" dy="4.9">Dec 2025</text>
</svg>
</body></html>
